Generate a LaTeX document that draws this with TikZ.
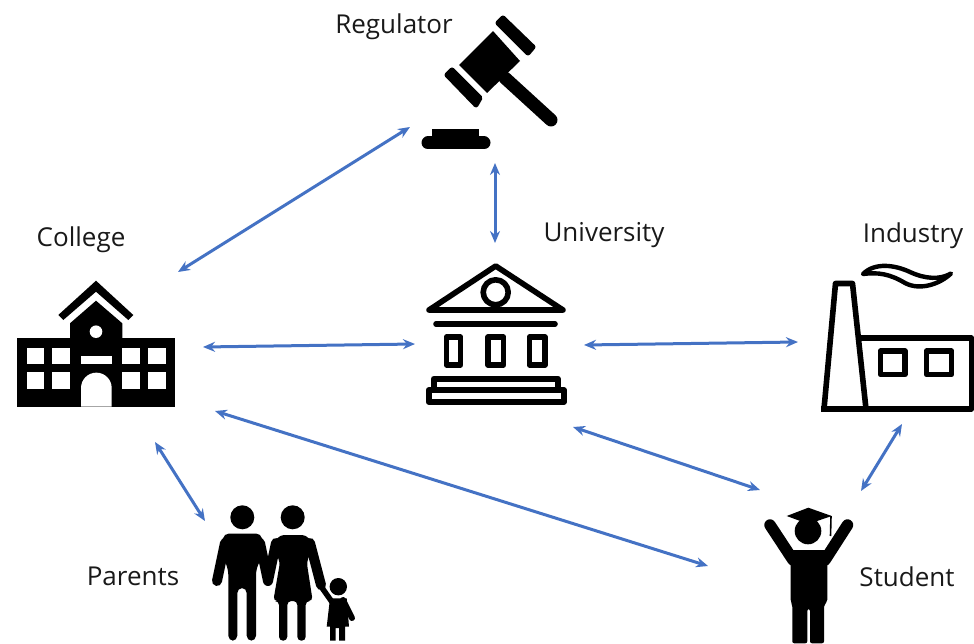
\documentclass[tikz,border=0pt]{standalone}
\usepackage{fontspec}
\setmainfont{Open Sans}
\usetikzlibrary{arrows.meta}

\begin{document}
\begin{tikzpicture}[
            x=1pt, y=-1pt,
            link/.style={{Stealth[length=12pt,width=10pt]}-{Stealth[length=12pt,width=10pt]}, line width=3pt, color=linkblue},
            tag/.style={font=\fontsize{26}{30}\selectfont, text=black!90},
            solid icon/.style={fill=black, draw=black, line join=round},
            outline/.style={draw=black, line width=5.6pt, line join=round},
            limb/.style={draw=black, line cap=round, line join=round}
        ]

            \definecolor{linkblue}{HTML}{4472C4}
            \useasboundingbox (0,0) rectangle (974,644);

            % labels
            \node[tag] (regulator) at (394,27) {Regulator};
            \node[tag] (college) at (81,240) {College};
            \node[tag] (university) at (604,235) {University};
            \node[tag] (industry) at (913,236) {Industry};
            \node[tag] (parents) at (133,576) {Parents};
            \node[tag] (student) at (907,577) {Student};

            % gavel
            \draw[solid icon, line width=5pt] (503,18) -- (533,47) -- (528,53) -- (498,23) -- cycle;
            \draw[solid icon, line width=5pt] (452,70) -- (480,98) -- (476,105) -- (447,75) -- cycle;
            \fill (493,31) -- (520,61) -- (487,93) -- (459,65) -- cycle;
            \draw[limb, line width=13pt] (505,78) -- (551,120);
            \fill (432,129) rectangle (479,138);
            \draw[limb, line width=13pt] (428,143) -- (484,143);

            % college
            \fill (17.3,337.7) rectangle (175,406.7);
            \fill (70,338) -- (70,323.3) -- (96,300.7) -- (122.3,323.3) -- (122.3,338) -- cycle;
            \fill (58.3,315) -- (96,280.7) -- (133.3,315) -- (128.3,320) -- (96,291.7) -- (63.3,320) -- cycle;
            \fill[white] (96,331.7) circle (6.3);
            \foreach \wx in {26.7,52.3,122.3,148.3} {
                \foreach \wy in {347.7,372.3} {
                    \fill[white] (\wx,\wy) rectangle ++(17.6,16.7);
                }
            }
            \fill[white] (81,356) rectangle (111.7,364.3);
            \fill[white] (81,406.7) -- (81,388) arc[start angle=180, end angle=360, radius=15.35] -- (111.7,406.7) -- cycle;

            % university
            \draw[outline] (495.7,266) -- (429,310) -- (563,310) -- cycle;
            \draw[outline] (495.7,292.3) circle (12.5);
            \draw[limb, line width=5.6pt] (436,324) -- (555,324);
            \foreach \cx/\cw in {446.5/14, 488/15.5, 529.5/15.5} {
                \draw[outline] (\cx,337) rectangle ++(\cw,28);
            }
            \draw[outline] (433.7,378.7) rectangle (558,390);
            \draw[outline] (428.7,390) rectangle (564,402);

            % industry
            \draw[outline] (835.5,283.5) -- (852.5,283.5) -- (866,409) -- (824,409) -- cycle;
            \draw[outline] (860,338) -- (971.5,338) -- (971.5,409) -- (821,409);
            \draw[outline] (880.5,351) rectangle (905,374.5);
            \draw[outline] (926.5,351) rectangle (951.5,374.5);
            \draw[line width=4.4pt, line join=round, line cap=round] (863,274) .. controls (875,262) and (895,265) .. (910,272)
                .. controls (925,279) and (940,280) .. (951,273.5)
                .. controls (940,284) and (920,291) .. (905,283) .. controls (890,274) and (878,272) .. (863,274) -- cycle;

            % parents
            \fill (242.3,517.3) circle (12);
            \fill (292.7,517.3) circle (12);
            % man
            \draw[limb, line width=10pt] (225,543) -- (217,581);
            \draw[limb, line width=10pt] (260,543) -- (268,581);
            \fill[rounded corners=5pt] (220.5,550) -- (224,533.5) -- (261,533.5) -- (264.5,550) -- (256,570) -- (256,640.7) -- (246.7,640.7) -- (246.7,588) -- (237.3,588) -- (237.3,640.7) -- (228.3,640.7) -- (228.3,570) -- cycle;
            % woman
            \draw[limb, line width=10pt] (276,543) -- (268,581);
            \draw[limb, line width=10pt] (310,543) -- (321,585);
            \draw[limb, line width=5.5pt] (320,585) -- (332,602);
            \fill[rounded corners=4pt] (272,545) -- (280,535) -- (306,535) -- (314,545) -- (306.7,562) -- (312.7,601) -- (305.7,601) -- (305.7,640.7) -- (297.3,640.7) -- (297.3,601) -- (287.3,601) -- (287.3,640.7) -- (279,640.7) -- (279,601) -- (273.3,601) -- (280,562) -- cycle;
            % child
            \fill (338.3,586.7) circle (8.7);
            \draw[limb, line width=6pt] (343,600) -- (352,618);
            \fill (330,598.3) -- (346.7,598.3) -- (349,626.7) -- (345,626.7) -- (345,640.7) -- (339,640.7) -- (339,628) -- (335.7,628) -- (335.7,640.7) -- (330,640.7) -- (330,626.7) -- (326.7,626.7) -- cycle;

            % student
            \fill (808,531) circle (13.3);
            \fill (786.7,516) -- (808.3,507.7) -- (831.7,516) -- (808.3,524) -- cycle;
            \draw[white, line width=1.2pt] (828.5,518) -- (828.5,537);
            \draw[line width=1.6pt] (831,516) -- (830.5,536);
            \draw[limb, line width=11.5pt] (793,560) -- (770,525);
            \draw[limb, line width=11.5pt] (825,560) -- (847.5,525);
            \fill[rounded corners=2pt] (790.7,550) -- (827.3,550) -- (827.3,601.7) -- (824,605) -- (824,643.3) -- (810,643.3) -- (810,609) -- (807.3,609) -- (807.3,643.3) -- (792.3,643.3) -- (792.3,605) -- (790.7,601.7) -- cycle;

            % connector ends
            \coordinate (gavel low) at (410,127);
            \coordinate (college up) at (178,272);
            \coordinate (gavel base) at (495,163);
            \coordinate (university top) at (495,243);
            \coordinate (college east) at (203,347);
            \coordinate (university west) at (415,344);
            \coordinate (university east) at (584,345);
            \coordinate (industry west) at (798,342);
            \coordinate (college low) at (215,411);
            \coordinate (student west) at (708,566);
            \coordinate (university low) at (573,427);
            \coordinate (student up) at (760,490);
            \coordinate (industry low) at (902,424);
            \coordinate (student top) at (861,491);
            \coordinate (college foot) at (155,442);
            \coordinate (parents top) at (205,521);

            \draw[link] (gavel low) -- (college up);
            \draw[link] (gavel base) -- (university top);
            \draw[link] (college east) -- (university west);
            \draw[link] (university east) -- (industry west);
            \draw[link] (college low) -- (student west);
            \draw[link] (university low) -- (student up);
            \draw[link] (industry low) -- (student top);
            \draw[link] (college foot) -- (parents top);

        \end{tikzpicture}
\end{document}
